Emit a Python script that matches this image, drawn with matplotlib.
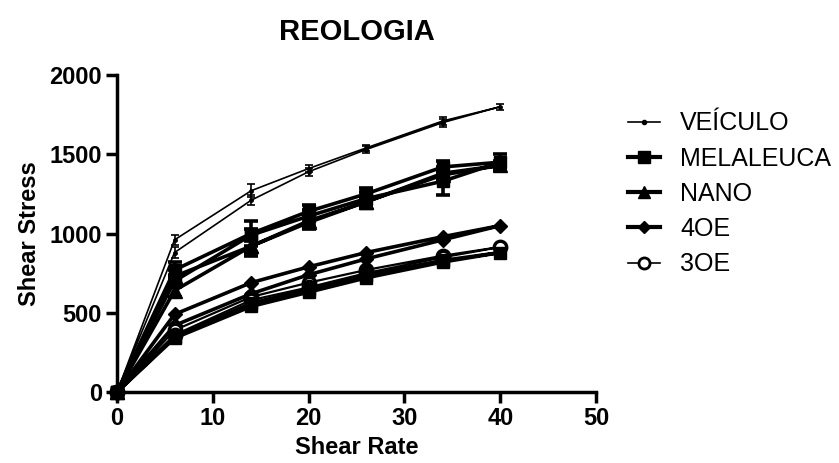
import matplotlib
matplotlib.use('Agg')
import matplotlib.pyplot as plt
from matplotlib.lines import Line2D

plt.rcParams['font.family'] = ['Liberation Sans', 'DejaVu Sans']

# taxa de cisalhamento: ida (0 -> 40) e volta (40 -> 0)
taxa_ida = [0, 6, 14, 20, 26, 34, 40]
taxa = taxa_ida + taxa_ida[-2::-1]

veiculo = [0, 960, 1270, 1410, 1540, 1710, 1800, 1700, 1530, 1390, 1210, 880, 0]
veiculo_err = [0, 30, 40, 25, 20, 25, 20, 25, 20, 25, 30, 35, 0]

melaleuca = [0, 770, 1000, 1140, 1250, 1420, 1450, 1330, 1220, 1110, 990, 700, 0]
melaleuca_err = [0, 50, 80, 40, 40, 40, 50, 90, 40, 40, 40, 40, 0]

nano = [0, 730, 920, 1070, 1200, 1380, 1430, 1370, 1200, 1080, 920, 640, 0]
nano_err = [0, 40, 60, 40, 30, 30, 30, 30, 30, 30, 40, 40, 0]

oe4 = [0, 490, 690, 790, 880, 980, 1050, 960, 840, 740, 620, 420, 0]
oe3 = [0, 390, 600, 690, 770, 860, 915, 850, 750, 660, 580, 360, 0]
extra = [0, 340, 540, 630, 720, 820, 880, 830, 740, 650, 560, 350, 0]

nomes = ['VEÍCULO', 'MELALEUCA', 'NANO', '4OE', '3OE']

fig = plt.figure(figsize=(8.39, 4.63), dpi=100)
ax = fig.add_axes([0.1395, 0.1533, 0.571, 0.6847])

ax.errorbar(taxa, veiculo, yerr=veiculo_err, color='black', lw=1.2, marker='o', ms=2.5,
            capsize=3, elinewidth=1.2, capthick=1.2)
ax.errorbar(taxa, melaleuca, yerr=melaleuca_err, color='black', lw=2.6, marker='s', ms=9,
            capsize=5, elinewidth=2.6, capthick=2.6)
ax.errorbar(taxa, nano, yerr=nano_err, color='black', lw=2.6, marker='^', ms=10,
            capsize=5, elinewidth=2.6, capthick=2.6)
ax.plot(taxa, oe4, color='black', lw=2.6, marker='D', ms=7)
ax.plot(taxa, oe3, color='black', lw=1.6, marker='o', ms=9, mfc='white', mew=2.4)
ax.plot(taxa, extra, color='black', lw=2.6, marker='s', ms=9)

ax.set_xlim(0, 50)
ax.set_ylim(0, 2000)
ax.set_xticks([0, 10, 20, 30, 40, 50])
ax.set_yticks([0, 500, 1000, 1500, 2000])
for ln in ax.lines:
    ln.set_clip_on(False)

for s in ['top', 'right']:
    ax.spines[s].set_visible(False)
for s in ['left', 'bottom']:
    ax.spines[s].set_linewidth(2.5)
ax.tick_params(direction='out', length=8, width=2.5, labelsize=17, pad=3)
for lbl in ax.get_xticklabels() + ax.get_yticklabels():
    lbl.set_fontweight('bold')

ax.set_xlabel('Shear Rate', fontsize=17, fontweight='bold', labelpad=4)
ax.set_ylabel('Shear Stress', fontsize=17, fontweight='bold', labelpad=6)
ax.set_title('REOLOGIA', fontsize=21, fontweight='bold', pad=25)

handles = [
    Line2D([], [], color='black', lw=1.2, marker='o', ms=3),
    Line2D([], [], color='black', lw=3, marker='s', ms=8),
    Line2D([], [], color='black', lw=3, marker='^', ms=8),
    Line2D([], [], color='black', lw=3, marker='D', ms=6),
    Line2D([], [], color='black', lw=1.2, marker='o', ms=8, mfc='white', mew=2),
]
fig.legend(handles, nomes, loc='upper left', bbox_to_anchor=(0.7366, 0.781),
           frameon=False, fontsize=18, handlelength=1.28, handletextpad=0.8,
           labelspacing=0.45, borderpad=0.4, borderaxespad=0)

fig.savefig('out.png', dpi=100)
